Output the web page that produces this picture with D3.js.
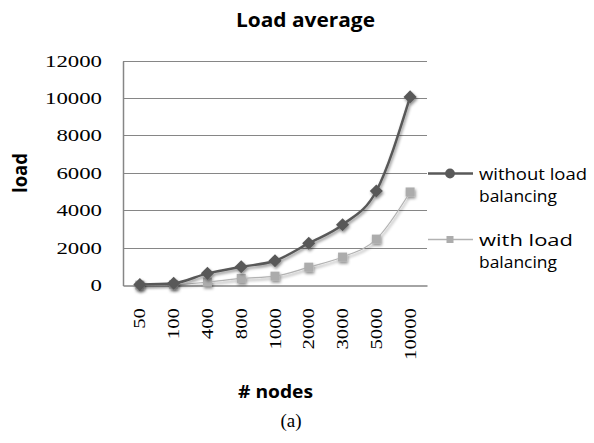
<!DOCTYPE html>
<html><head><meta charset="utf-8">
<script src="https://cdn.jsdelivr.net/npm/d3@7"></script>
<style>body{margin:0;background:#fff}</style>
</head><body>
<svg id="c" width="594" height="443"></svg>
<script>
const categories = ["50","100","400","800","1000","2000","3000","5000","10000"];
const withoutLB = [50, 120, 650, 1000, 1320, 2260, 3250, 5050, 10080];
const withLB = [20, 40, 180, 380, 500, 980, 1520, 2480, 5000];
const yTicks = [0,2000,4000,6000,8000,10000,12000];
const seriesNames = ["without load|balancing", "with load|balancing"];

const svg = d3.select("#c");
const m = {l:123, r:427, t:61, b:285.5};
const x = d3.scaleBand().domain(categories).range([m.l, m.r]);
const y = d3.scaleLinear().domain([0,12000]).range([m.b, m.t]);

const defs = svg.append("defs");
const f = defs.append("filter").attr("id","sh").attr("x","-50%").attr("y","-50%").attr("width","200%").attr("height","200%");
f.append("feDropShadow").attr("dx",1).attr("dy",2).attr("stdDeviation",1.5).attr("flood-color","#000").attr("flood-opacity",0.45);

// gridlines
svg.append("g").selectAll("line").data(yTicks.slice(1)).join("line")
  .attr("x1",m.l).attr("x2",m.r).attr("y1",d=>y(d)).attr("y2",d=>y(d))
  .attr("stroke","#868686").attr("stroke-width",1).attr("shape-rendering","crispEdges");

// y axis
const ya = svg.append("g").attr("transform",`translate(${m.l},0)`)
  .call(d3.axisLeft(y).tickValues(yTicks).tickSize(0).tickPadding(21).tickFormat(d3.format("d")));
ya.select(".domain").attr("stroke","#868686").attr("stroke-width",1.5);
ya.selectAll("text").attr("font-family","Liberation Serif").attr("font-size",16).attr("fill","#000")
  .attr("textLength",d=>String(d).length*11.4).attr("lengthAdjust","spacingAndGlyphs");

// x axis
const xa = svg.append("g").attr("transform",`translate(0,${m.b})`)
  .call(d3.axisBottom(x).tickSize(0).tickPadding(0));
xa.select(".domain").attr("stroke","#868686").attr("stroke-width",1.5);
xa.selectAll("text").attr("font-family","Liberation Serif").attr("font-size",16).attr("fill","#000")
  .attr("transform","translate(0,22.5) rotate(-90)").attr("text-anchor","end").attr("dx",0).attr("dy","0.35em")
  .attr("x",0).attr("y",0)
  .attr("textLength",d=>String(d).length*10.4).attr("lengthAdjust","spacingAndGlyphs");

const cx = d => x(d) + x.bandwidth()/2;
const line = d3.line().x((d,i)=>cx(categories[i])).y(d=>y(d)).curve(d3.curveMonotoneX);

// with LB series
const g2 = svg.append("g").attr("filter","url(#sh)");
g2.append("path").datum(withLB).attr("d",line).attr("fill","none").attr("stroke","#b2b2b2").attr("stroke-width",1.2);
g2.selectAll("rect").data(withLB).join("rect")
  .attr("x",(d,i)=>cx(categories[i])-4.5).attr("y",d=>y(d)-4.5).attr("width",9).attr("height",9).attr("fill","#acacac");

// without LB series
const g1 = svg.append("g").attr("filter","url(#sh)");
g1.append("path").datum(withoutLB).attr("d",line).attr("fill","none").attr("stroke","#595959").attr("stroke-width",2.5);
const diamond = d3.symbol().type(d3.symbolDiamond2).size(110);
g1.selectAll("path.pt").data(withoutLB).join("path").attr("class","pt")
  .attr("d",diamond).attr("transform",(d,i)=>`translate(${cx(categories[i])},${y(d)})`).attr("fill","#595959");

// legend
const leg = [{ly:173.5, color:"#595959", w:2.5, sym:"d", w1:108, w2:78},
             {ly:239.5, color:"#b2b2b2", w:1.5, sym:"s", w1:94, w2:78}];
leg.forEach((L,i)=>{
  const g = svg.append("g");
  g.append("line").attr("x1",428).attr("x2",473).attr("y1",L.ly).attr("y2",L.ly).attr("stroke",L.color).attr("stroke-width",L.w);
  if(L.sym==="d") g.append("path").attr("d",d3.symbol().type(d3.symbolCircle).size(75)).attr("transform",`translate(450,${L.ly})`).attr("fill","#595959");
  else g.append("rect").attr("x",446.5).attr("y",L.ly-3.5).attr("width",7).attr("height",7).attr("fill","#acacac");
  const parts = seriesNames[i].split("|");
  g.append("text").attr("x",479).attr("y",L.ly+6.5).text(parts[0])
    .attr("font-family","Open Sans").attr("font-size",17).attr("fill","#000")
    .attr("textLength",L.w1).attr("lengthAdjust","spacingAndGlyphs");
  g.append("text").attr("x",479).attr("y",L.ly+28.5).text(parts[1])
    .attr("font-family","Open Sans").attr("font-size",17).attr("fill","#000")
    .attr("textLength",L.w2).attr("lengthAdjust","spacingAndGlyphs");
});

// titles
svg.append("text").attr("x",305.5).attr("y",27).attr("text-anchor","middle").text("Load average")
  .attr("font-family","Open Sans").attr("font-weight","bold").attr("font-size",19)
  .attr("textLength",139).attr("lengthAdjust","spacingAndGlyphs");
svg.append("text").attr("transform","translate(27,173) rotate(-90)").attr("text-anchor","middle").text("load")
  .attr("font-family","Open Sans").attr("font-weight","bold").attr("font-size",19)
  .attr("textLength",40).attr("lengthAdjust","spacingAndGlyphs");
svg.append("text").attr("x",275.5).attr("y",398).attr("text-anchor","middle").text("# nodes")
  .attr("font-family","Open Sans").attr("font-weight","bold").attr("font-size",18)
  .attr("textLength",75).attr("lengthAdjust","spacingAndGlyphs");
svg.append("text").attr("x",291).attr("y",427).attr("text-anchor","middle").text("(a)")
  .attr("font-family","Liberation Serif").attr("font-size",19);
</script>
</body></html>
